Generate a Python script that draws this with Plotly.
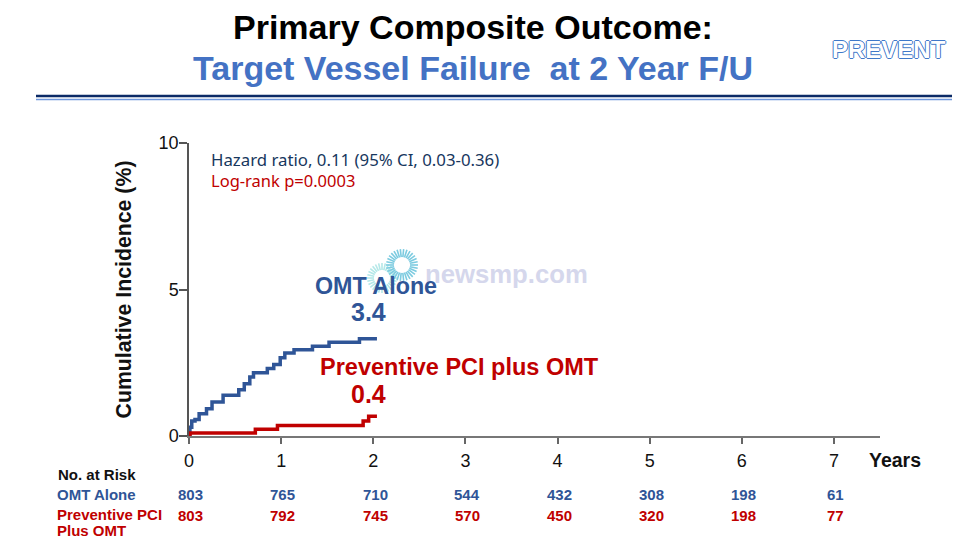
import math
import plotly.graph_objects as go

# page body has an 8px margin, so the figure is laid out 8px smaller and coordinates are shifted
OFF = 8
W, H = 960 - OFF, 547 - OFF
L, R, T, B = 189 - OFF, 80, 143 - OFF, 111
BLUE = "#2F5597"
RED = "#C00000"
FONT = "Liberation Sans"

# step curves (years, cumulative incidence %)
omt_t = [0, 0.01, 0.03, 0.065, 0.11, 0.19, 0.25, 0.37, 0.54, 0.60, 0.66, 0.70, 0.85, 0.92, 0.99, 1.04, 1.14, 1.34, 1.52, 1.85, 2.04]
omt_y = [0, 0.30, 0.51, 0.56, 0.76, 0.93, 1.16, 1.39, 1.58, 1.78, 2.01, 2.16, 2.30, 2.44, 2.67, 2.83, 2.94, 3.06, 3.20, 3.32, 3.32]
pci_t = [0, 0.01, 0.72, 0.96, 1.89, 1.95, 2.04]
pci_y = [0, 0.10, 0.23, 0.36, 0.51, 0.67, 0.67]

years = [0, 1, 2, 3, 4, 5, 6, 7]
risk_omt = [803, 765, 710, 544, 432, 308, 198, 61]
risk_pci = [803, 792, 745, 570, 450, 320, 198, 77]


def px(x):
    return (x - OFF - L) / (W - L - R)


def py(y):
    return 1 - (y - OFF - T) / (H - T - B)


def label(text, x, y, size, color, bold=True, anchor="center", font=FONT, xref="paper", **kw):
    if bold:
        text = "<b>" + text + "</b>"
    xval = px(x) if xref == "paper" else x
    return dict(text=text, x=xval, y=py(y), xref=xref, yref="paper", xanchor=anchor, yanchor="middle",
                showarrow=False, font=dict(family=font, size=size, color=color, **kw.pop("font_extra", {})), **kw)


fig = go.Figure()
fig.add_trace(go.Scatter(x=omt_t, y=omt_y, mode="lines", line=dict(color=BLUE, width=3.5, shape="hv"), cliponaxis=False))
fig.add_trace(go.Scatter(x=pci_t, y=pci_y, mode="lines", line=dict(color=RED, width=3.5, shape="hv"), cliponaxis=False))

shapes = [
    dict(type="line", xref="paper", yref="paper", x0=px(36), x1=px(955), y0=py(96), y1=py(96), line=dict(color="#0B2A66", width=2.5)),
    dict(type="line", xref="paper", yref="paper", x0=px(36), x1=px(955), y0=py(99.5), y1=py(99.5), line=dict(color="#6F97DC", width=1.5)),
]

# watermark rings
for cx, cy, r0, r1, col, n in [(382, 278, 8, 15, "#B4E8E8", 28), (402, 265, 8, 16, "#7CCBE0", 30)]:
    for i in range(n):
        a = 2 * math.pi * i / n
        shapes.append(dict(type="line", xref="paper", yref="paper",
                           x0=px(cx + r0 * math.cos(a)), y0=py(cy + r0 * math.sin(a)),
                           x1=px(cx + r1 * math.cos(a)), y1=py(cy + r1 * math.sin(a)),
                           line=dict(color=col, width=1.6)))

outline = "-1px 0 #3F78C9, 1px 0 #3F78C9, 0 -1px #3F78C9, 0 1px #3F78C9"
anns = [
    label("Primary Composite Outcome:", 473, 27, 34, "#000000"),
    label("Target Vessel Failure\u00a0\u00a0at 2 Year F/U", 473, 68, 34, "#4472C4"),
    label("PREVENT", 889, 49, 24, "#FFFFFF", font_extra=dict(shadow=outline)),
    label("newsmp.com", 506, 274, 25.7, "#D5D7EC"),
    label("Hazard ratio, 0.11 (95% CI, 0.03-0.36)", 209, 159, 16.8, "#17375E", bold=False, anchor="left", font="Noto Sans"),
    label("Log-rank p=0.0003", 209, 181, 16.5, "#C00000", bold=False, anchor="left", font="Noto Sans"),
    label("OMT Alone", 376, 286, 23.3, BLUE),
    label("3.4", 368, 312, 25, BLUE),
    label("Preventive PCI plus OMT", 459, 367, 23.5, RED),
    label("0.4", 368, 394, 25, RED),
    label("Years", 895, 460, 19.5, "#111111"),
    label("No. at Risk", 56, 474, 15, "#111111", anchor="left"),
    label("OMT Alone", 55, 494, 15, BLUE, anchor="left"),
    label("Preventive PCI", 55, 514, 15, RED, anchor="left"),
    label("Plus OMT", 55, 530, 15, RED, anchor="left"),
]
for yr, a, b in zip(years, risk_omt, risk_pci):
    anns.append(label(str(a), yr + 0.02, 494.5, 15, BLUE, xref="x"))
    anns.append(label(str(b), yr + 0.02, 515, 15, RED, xref="x"))

fig.update_layout(
    width=W, height=H, autosize=False,
    margin=dict(l=L, r=R, t=T, b=B, pad=0),
    paper_bgcolor="white", plot_bgcolor="white",
    showlegend=False,
    shapes=shapes, annotations=anns,
    font=dict(family=FONT, color="#111111"),
)
fig.update_xaxes(range=[0, 7.5], tickvals=years, ticks="outside", ticklen=6, tickwidth=1.5, tickcolor="#666666",
                 showline=True, linecolor="#777777", linewidth=1.5, showgrid=False, zeroline=False,
                 ticklabelstandoff=2, tickfont=dict(size=18, color="#111111"))
fig.update_yaxes(range=[0, 10], tickvals=[0, 5, 10], ticks="outside", ticklen=8, tickwidth=1.5, tickcolor="#555555",
                 showline=True, linecolor="#555555", linewidth=1.5, showgrid=False, zeroline=False,
                 ticklabelstandoff=-3, tickfont=dict(size=18, color="#111111"),
                 title=dict(text="<b>Cumulative Incidence (%)</b>", font=dict(size=21.3, color="#111111"), standoff=21))

fig.write_html("out.html")
